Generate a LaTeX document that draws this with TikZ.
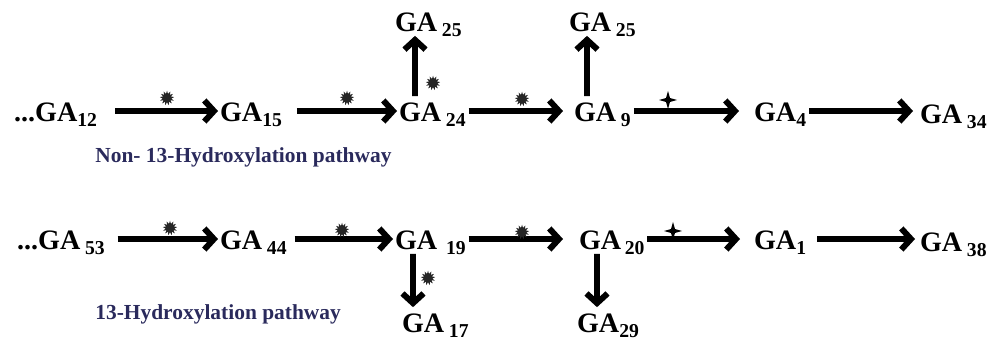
\documentclass[tikz,border=0pt]{standalone}
\usepackage{fontspec}
\setmainfont{Liberation Serif}
\usetikzlibrary{arrows.meta,shapes.geometric}
\definecolor{pathnavy}{RGB}{42,42,92}
\begin{document}
\begin{tikzpicture}[x=0.02cm, y=-0.02cm, every node/.style={font=\fontsize{16}{18}\selectfont\bfseries},
	ga/.style={anchor=base west, inner xsep=1pt, inner ysep=2pt, text height=12.5pt, text depth=0pt},
	arr/.style={line width=3.4pt, -{Straight Barb[length=5.5pt, width=12pt]}},
	burst/.style={star, star points=13, star point ratio=1.7, fill=black!85, minimum size=0.29cm, inner sep=0pt},
	quad/.style={star, star points=4, star point ratio=3.2, fill=black, minimum size=0.36cm, inner sep=0pt},
	lbl/.style={anchor=base west, inner sep=0pt, text=pathnavy, font=\fontsize{12.2}{14}\selectfont\bfseries}]
	\useasboundingbox (0,0) rectangle (990,340);
	\node[ga] (g12) at (12,122) {...GA\textsubscript{12}};
	\node[ga] (g15) at (218,122) {GA\textsubscript{15}};
	\node[ga] (g24) at (397,122) {GA\,\textsubscript{24}};
	\node[ga] (g25a) at (393,32) {GA\,\textsubscript{25}};
	\node[ga] (g9) at (572,122) {GA\,\textsubscript{9}};
	\node[ga] (g25b) at (567,32) {GA\,\textsubscript{25}};
	\node[ga] (g4) at (752,122) {GA\textsubscript{4}};
	\node[ga] (g34) at (918,124) {GA\,\textsubscript{34}};
	\node[ga] (g53) at (15,250) {...GA\,\textsubscript{53}};
	\node[ga] (g44) at (218,250) {GA\,\textsubscript{44}};
	\node[ga] (g19) at (393,250) {GA\hspace{5pt}\textsubscript{19}};
	\node[ga] (g17) at (400,333) {GA\,\textsubscript{17}};
	\node[ga] (g20) at (577,250) {GA\hspace{2pt}\textsubscript{20}};
	\node[ga] (g29) at (575,333) {GA\textsubscript{29}};
	\node[ga] (g1) at (752,250) {GA\textsubscript{1}};
	\node[ga] (g38) at (918,252) {GA\,\textsubscript{38}};
	\node[lbl] (top) at (95,163) {Non- 13-Hydroxylation pathway};
	\node[lbl] (bottom) at (95,320) {13-Hydroxylation pathway};
	\draw[arr, shorten <=0.3cm] (g12) -- (g15);
	\draw[arr, shorten <=0.24cm] (g15) -- (g24);
	\draw[arr, shorten >=0.18cm] (g24) -- (g9);
	\draw[arr, shorten >=0.26cm] (g9) -- (g4);
	\draw[arr, shorten >=0.1cm] (g4) -- (g34.west |- g4);
	\draw[arr] ([xshift=0.36cm]g24.north west) -- ([xshift=0.44cm]g25a.south west);
	\draw[arr] ([xshift=0.3cm]g9.north west) -- ([xshift=0.4cm]g25b.south west);
	\draw[arr, shorten <=0.2cm] (g53) -- (g44);
	\draw[arr, shorten <=0.1cm] (g44) -- (g19);
	\draw[arr, shorten >=0.28cm] (g19) -- (g20);
	\draw[arr, shorten >=0.24cm] (g20) -- (g1);
	\draw[arr, shorten <=0.16cm, shorten >=0.06cm] (g1) -- (g38.west |- g1);
	\draw[arr] ([xshift=0.4cm]g19.south west) -- ([xshift=0.26cm]g17.north west);
	\draw[arr] ([xshift=0.4cm]g20.south west) -- ([xshift=0.44cm]g29.north west);
	\node[burst] (s1) at (167,98) {};
	\node[burst] (s2) at (347,98) {};
	\node[burst] (s3) at (433,83) {};
	\node[burst] (s4) at (522,99) {};
	\node[quad] (d1) at (668,100) {};
	\node[burst] (s5) at (170,228) {};
	\node[burst] (s6) at (342,230) {};
	\node[burst] (s7) at (428,278) {};
	\node[burst] (s8) at (522,232) {};
	\node[quad] (d2) at (673,231) {};
\end{tikzpicture}
\end{document}
